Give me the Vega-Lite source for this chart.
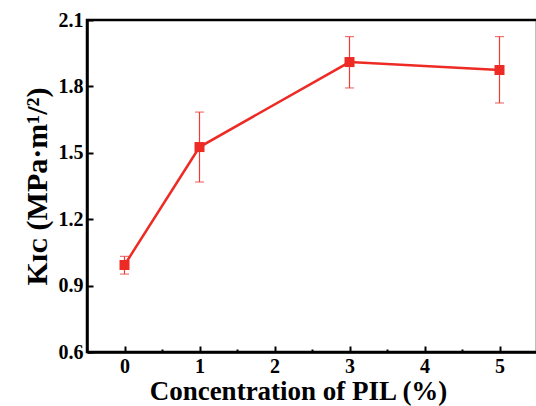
{
  "$schema": "https://vega.github.io/schema/vega-lite/v6.json",
  "width": 450,
  "height": 332,
  "autosize": "none",
  "padding": {"left": 87, "top": 20, "right": 0, "bottom": 54},
  "config": {
    "view": {"stroke": "black", "strokeWidth": 2.5},
    "axis": {
      "domainColor": "black",
      "domainWidth": 2.5,
      "tickColor": "black",
      "tickWidth": 2,
      "grid": false,
      "labelFont": "Liberation Serif",
      "labelFontWeight": "bold",
      "labelFontSize": 20,
      "labelColor": "black",
      "titleFont": "Liberation Serif",
      "titleFontWeight": "bold",
      "titleFontSize": 27,
      "titleColor": "black"
    }
  },
  "data": {
    "values": [
      {"c": 0, "k": 0.993, "lo": 0.952, "hi": 1.032},
      {"c": 1, "k": 1.526, "lo": 1.368, "hi": 1.684},
      {"c": 3, "k": 1.91, "lo": 1.793, "hi": 2.025},
      {"c": 5, "k": 1.874, "lo": 1.725, "hi": 2.025}
    ]
  },
  "layer": [
    {
      "mark": {"type": "rule", "color": "#ee3b35", "strokeWidth": 1.2},
      "encoding": {
        "x": {
          "field": "c",
          "type": "quantitative",
          "scale": {"domain": [-0.5, 5.5], "nice": false, "zero": false},
          "axis": {
            "title": "Concentration of PIL (%)",
            "titleX": 211,
            "values": [0, 0.5, 1, 1.5, 2, 2.5, 3, 3.5, 4, 4.5, 5],
            "labelExpr": "datum.value % 1 === 0 ? format(datum.value, 'd') : ''",
            "tickSize": {"condition": {"test": "datum.value % 1 === 0", "value": -6}, "value": -3},
            "labelPadding": 10,
            "titlePadding": 2
          }
        },
        "y": {
          "field": "lo",
          "type": "quantitative",
          "scale": {"domain": [0.6, 2.1], "nice": false, "zero": false},
          "axis": {
            "title": "Kɪᴄ (MPa·m¹/²)",
            "titleFontSize": 30,
            "values": [0.6, 0.75, 0.9, 1.05, 1.2, 1.35, 1.5, 1.65, 1.8, 1.95, 2.1],
            "labelExpr": "round(datum.value * 20) % 6 === 0 ? format(datum.value, '.1f') : ''",
            "tickSize": {"condition": {"test": "round(datum.value * 20) % 6 === 0", "value": -6}, "value": -3},
            "labelPadding": 10,
            "titlePadding": 6
          }
        },
        "y2": {"field": "hi"}
      }
    },
    {
      "mark": {"type": "tick", "color": "#ee3b35", "size": 9, "thickness": 1.2, "orient": "horizontal"},
      "encoding": {
        "x": {"field": "c", "type": "quantitative"},
        "y": {"field": "lo", "type": "quantitative"}
      }
    },
    {
      "mark": {"type": "tick", "color": "#ee3b35", "size": 9, "thickness": 1.2, "orient": "horizontal"},
      "encoding": {
        "x": {"field": "c", "type": "quantitative"},
        "y": {"field": "hi", "type": "quantitative"}
      }
    },
    {
      "mark": {"type": "line", "color": "#ee2a24", "strokeWidth": 2.5},
      "encoding": {
        "x": {"field": "c", "type": "quantitative"},
        "y": {"field": "k", "type": "quantitative"}
      }
    },
    {
      "mark": {"type": "point", "shape": "square", "filled": true, "color": "#ee2a24", "size": 100, "opacity": 1},
      "encoding": {
        "x": {"field": "c", "type": "quantitative"},
        "y": {"field": "k", "type": "quantitative"}
      }
    }
  ]
}
